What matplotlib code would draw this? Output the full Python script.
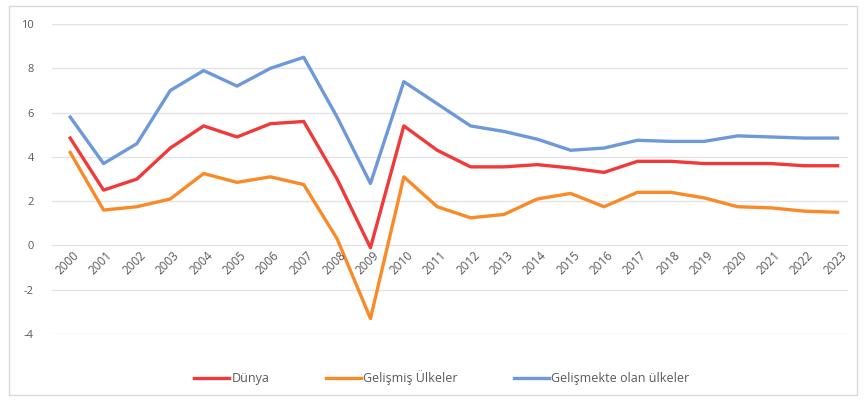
import matplotlib.pyplot as plt
from matplotlib.patches import Rectangle

years = [str(y) for y in range(2000, 2024)]

dunya = [4.85, 2.5, 3.0, 4.4, 5.4, 4.9, 5.5, 5.6, 3.0, -0.1, 5.4, 4.3,
         3.55, 3.55, 3.65, 3.5, 3.3, 3.8, 3.8, 3.7, 3.7, 3.7, 3.6, 3.6]
gelismis = [4.2, 1.6, 1.75, 2.1, 3.25, 2.85, 3.1, 2.75, 0.3, -3.3, 3.1, 1.75,
            1.25, 1.4, 2.1, 2.35, 1.75, 2.4, 2.4, 2.15, 1.75, 1.7, 1.55, 1.5]
gelismekte = [5.8, 3.7, 4.6, 7.0, 7.9, 7.2, 8.0, 8.5, 5.8, 2.8, 7.4, 6.4,
              5.4, 5.15, 4.8, 4.3, 4.4, 4.75, 4.7, 4.7, 4.95, 4.9, 4.85, 4.85]

yticks = [-4, -2, 0, 2, 4, 6, 8, 10]

plt.rcParams['font.family'] = ['Open Sans', 'DejaVu Sans']
txt = '#595959'

fig = plt.figure(figsize=(8.64, 4.01), dpi=100)
ax = fig.add_axes([0.06, 0.167, 0.921, 0.773])

x = list(range(len(years)))
ax.plot(x, dunya, color='#F03A3A', lw=2.4, label='Dünya', solid_joinstyle='round')
ax.plot(x, gelismis, color='#FA8A28', lw=2.4, label='Gelişmiş Ülkeler', solid_joinstyle='round')
ax.plot(x, gelismekte, color='#6E98DA', lw=2.4, label='Gelişmekte olan ülkeler', solid_joinstyle='round')

ax.set_ylim(-4, 10)
ax.set_xlim(-0.55, len(years) - 0.7)
ax.set_yticks(yticks)
ax.set_yticklabels([str(v) for v in yticks], color=txt, fontsize=8)
ax.tick_params(axis='y', length=0, pad=13)
ax.set_xticks([])
for i, lab in enumerate(years):
    ax.text(i + 0.35, -0.15, lab, rotation=45, ha='right', va='top',
            fontsize=8.5, color=txt)

ax.grid(axis='y', color='#E3E3E3', lw=1)
ax.set_axisbelow(True)
for s in ax.spines.values():
    s.set_visible(False)

ax.legend(loc='upper center', bbox_to_anchor=(0.49, -0.08), ncol=3, frameon=False,
          fontsize=9, labelcolor=txt, handlelength=2.8, columnspacing=4.5,
          handletextpad=0.2)

fig.patches.append(Rectangle((0.01, 0.015), 0.982, 0.97, transform=fig.transFigure,
                             fill=False, edgecolor='#D9D9D9', lw=1))

fig.savefig('out.png', dpi=100)
